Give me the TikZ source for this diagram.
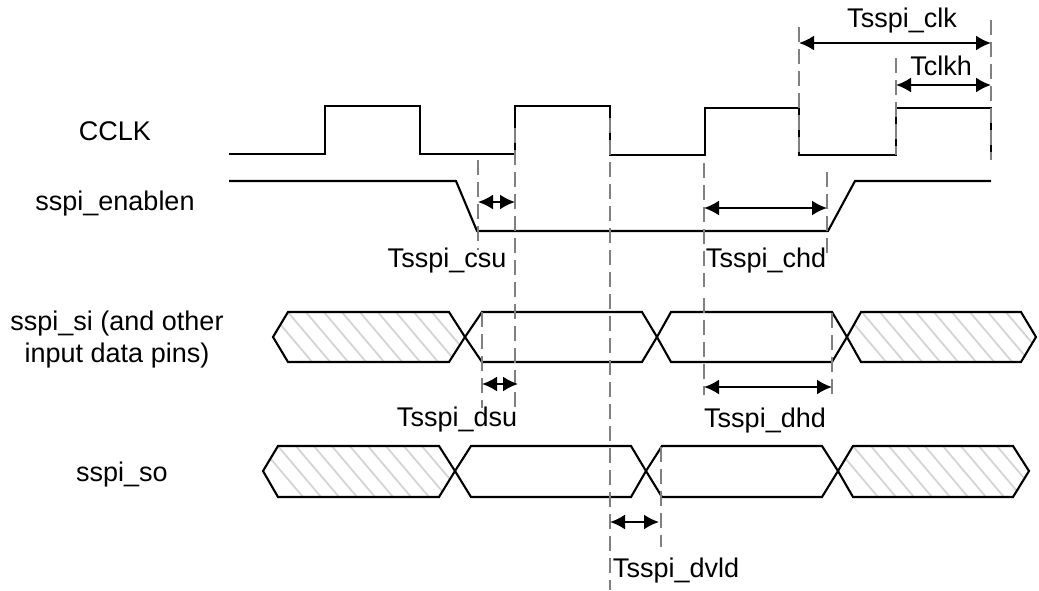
\documentclass[tikz,border=0pt]{standalone}
\usepackage{fontspec}
\setmainfont{Liberation Sans}
\usetikzlibrary{arrows.meta}
\tikzset{
  wave/.style={draw=black, line width=2.1pt, line join=miter},
  guide/.style={draw=black!50, line width=2.1pt, dash pattern=on 15pt off 7pt},
  span/.style={{Latex[length=15pt,width=15pt]}-{Latex[length=15pt,width=15pt]}, line width=2.1pt},
  lbl/.style={anchor=base, inner sep=0pt, font=\fontsize{27}{32}\selectfont},
  hatched/.style={path picture={
    \foreach \i in {0,...,14} {
      \draw[black!17, line width=1.8pt]
        ([xshift=\i*18pt-4pt,yshift=1pt]path picture bounding box.north west) -- ++(44pt,-52pt);
    }}}
}
\begin{document}
\begin{tikzpicture}[x=1pt, y=-1pt]
  \useasboundingbox (0,0) rectangle (1039,590);
  % signal names
  \node [lbl] (cclk) at (115,140) {CCLK};
  \node [lbl] (enablen) at (115,210) {sspi\_enablen};
  \node [lbl] (si) at (117,330) {sspi\_si (and other};
  \node [lbl] (pins) at (117,362) {input data pins)};
  \node [lbl] (so) at (122,481) {sspi\_so};
  % clock and enable
  \draw [wave] (229,154) -- (325,154) -- (325,106) -- (420,106) -- (420,154) -- (515,154)
    -- (515,106) -- (610,106) -- (610,155) -- (705,155) -- (705,108) -- (799,108)
    -- (799,155) -- (896,155) -- (896,108) -- (991,108) -- (991,160);
  \draw [wave] (229,181) -- (456,181) -- (477,231) -- (828,231) -- (855,181) -- (991,181);
  % sspi_si
  \draw [wave, hatched] (273,337) -- (288,312) -- (449,312) -- (465,337) -- (449,362) -- (288,362) -- cycle;
  \draw [wave] (465,337) -- (482,312) -- (642,312) -- (657,337) -- (642,362) -- (482,362) -- cycle;
  \draw [wave] (657,337) -- (671,312) -- (832,312) -- (847,337) -- (832,362) -- (671,362) -- cycle;
  \draw [wave, hatched] (847,337) -- (861,312) -- (1021,312) -- (1036,337) -- (1021,362) -- (861,362) -- cycle;
  % sspi_so
  \draw [wave, hatched] (263,471) -- (278,446) -- (439,446) -- (455,471) -- (439,497) -- (278,497) -- cycle;
  \draw [wave] (455,471) -- (471,446) -- (631,446) -- (646,471) -- (631,497) -- (471,497) -- cycle;
  \draw [wave] (646,471) -- (662,446) -- (822,446) -- (838,471) -- (822,497) -- (662,497) -- cycle;
  \draw [wave, hatched] (838,471) -- (853,446) -- (1013,446) -- (1029,471) -- (1013,497) -- (853,497) -- cycle;
  % guides
  \draw [guide] (478,160) -- (478,250);
  \draw [guide] (515,128) -- (515,408);
  \draw [guide] (610,118) -- (610,590);
  \draw [guide] (704,163) -- (704,287);
  \draw [guide] (704,298) -- (704,395);
  \draw [guide] (827,172) -- (827,258);
  \draw [guide] (832,313) -- (832,398);
  \draw [guide] (482,312) -- (482,408);
  \draw [guide] (661,447) -- (661,547);
  \draw [guide] (799,27) -- (799,155);
  \draw [guide] (896,58) -- (896,155);
  \draw [guide] (991,20) -- (991,160);
  % spans
  \coordinate (clkL) at (799,43);
  \coordinate (clkR) at (991,43);
  \coordinate (clkhL) at (896,85);
  \coordinate (clkhR) at (991,85);
  \coordinate (csuL) at (478,202);
  \coordinate (csuR) at (515,202);
  \coordinate (chdL) at (704,208);
  \coordinate (chdR) at (827,208);
  \coordinate (dsuL) at (482,384);
  \coordinate (dsuR) at (518,384);
  \coordinate (dhdL) at (704,387);
  \coordinate (dhdR) at (832,387);
  \coordinate (dvldL) at (610,522);
  \coordinate (dvldR) at (659,522);
  \draw [span] (clkL) -- (clkR);
  \draw [span] (clkhL) -- (clkhR);
  \draw [span] (csuL) -- (csuR);
  \draw [span] (chdL) -- (chdR);
  \draw [span] (dsuL) -- (dsuR);
  \draw [span] (dhdL) -- (dhdR);
  \draw [span] (dvldL) -- (dvldR);
  % span names
  \node [lbl] (tclk) at (902,27) {Tsspi\_clk};
  \node [lbl] (tclkh) at (941,75) {Tclkh};
  \node [lbl] (tcsu) at (447,267) {Tsspi\_csu};
  \node [lbl] (tchd) at (766,267) {Tsspi\_chd};
  \node [lbl] (tdsu) at (457,426) {Tsspi\_dsu};
  \node [lbl] (tdhd) at (765,427) {Tsspi\_dhd};
  \node [lbl] (tdvld) at (676,577) {Tsspi\_dvld};
\end{tikzpicture}
\end{document}
